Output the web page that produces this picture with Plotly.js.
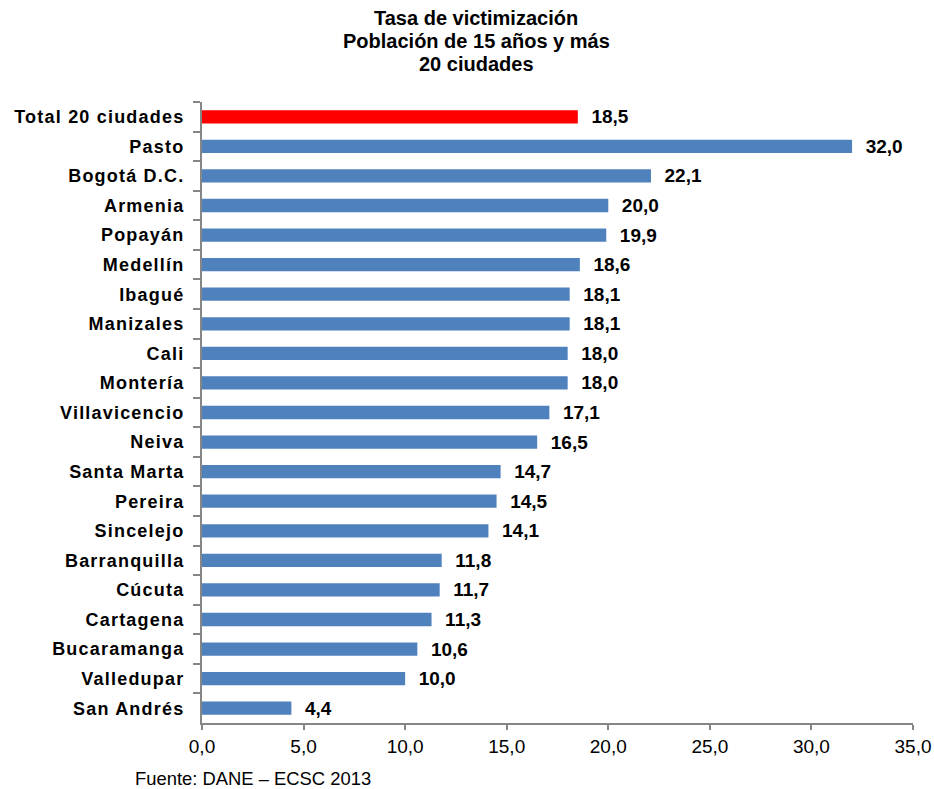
<!DOCTYPE html>
<html><head><meta charset="utf-8">
<script src="https://cdn.plot.ly/plotly-3.0.1.min.js"></script>
<style>
body{margin:0;background:#fff}
.ytick text{letter-spacing:1.2px}
</style>
</head><body>
<div id="chart" style="width:934px;height:789px"></div>
<script>
const cities = ["Total 20 ciudades","Pasto","Bogotá D.C.","Armenia","Popayán","Medellín","Ibagué","Manizales","Cali","Montería","Villavicencio","Neiva","Santa Marta","Pereira","Sincelejo","Barranquilla","Cúcuta","Cartagena","Bucaramanga","Valledupar","San Andrés"];
const rates = [18.5,32.0,22.1,20.0,19.9,18.6,18.1,18.1,18.0,18.0,17.1,16.5,14.7,14.5,14.1,11.8,11.7,11.3,10.6,10.0,4.4];
const titleLines = ["Tasa de victimización","Población de 15 años y más","20 ciudades"];
const sourceNote = "Fuente: DANE – ECSC 2013";
const barColors = cities.map((c,i)=> i===0 ? "#FF0000" : "#4F81BD");
const xTicks = [0,5,10,15,20,25,30,35];
const FONT = "Liberation Sans, Arial, sans-serif";

const trace = {
  type:"bar", orientation:"h",
  y: cities, x: rates,
  marker:{color: barColors},
  width:0.45,
  texttemplate:"  %{x:.1f}",
  textposition:"outside",
  constraintext:"none",
  cliponaxis:false,
  textfont:{family:FONT, size:19, color:"#000", weight:"bold"},
  hoverinfo:"skip"
};

// pixel helpers for annotation placement (plot area: x 202..913, y 102..723)
const px = X => (X-202)/711;
const py = Y => (723-Y)/621;
const titleY = [18, 41, 64];

const annotations = titleLines.map((t,i)=>({
  text:"<b>"+t+"</b>", xref:"paper", yref:"paper", x:px(476), y:py(titleY[i]),
  xanchor:"center", yanchor:"middle", showarrow:false,
  font:{family:FONT, size:20, color:"#000"}
}));
annotations.push({text:sourceNote, xref:"paper", yref:"paper",
  x:px(133), y:py(778), xanchor:"left", yanchor:"middle", showarrow:false,
  font:{family:FONT, size:18.4, color:"#000"}});

const layout = {
  width:934, height:789,
  separators:",.",
  margin:{l:202, r:21, t:102, b:66},
  paper_bgcolor:"#fff", plot_bgcolor:"#fff",
  showlegend:false,
  xaxis:{range:[0,35], tickvals:xTicks, tickformat:".1f",
         showgrid:false, zeroline:false, showline:true, linecolor:"#868686", linewidth:2,
         ticks:"outside", ticklen:5, tickcolor:"#868686", tickwidth:2,
         tickfont:{family:FONT, size:19, color:"#000"}},
  yaxis:{autorange:"reversed", type:"category", showgrid:false, zeroline:false,
         showline:true, linecolor:"#868686", linewidth:2,
         ticks:"outside", tickson:"boundaries", ticklen:7, tickcolor:"#868686", tickwidth:2,
         ticklabelstandoff:12,
         tickfont:{family:FONT, size:18, color:"#000", weight:"bold"}},
  annotations: annotations
};
Plotly.newPlot("chart",[trace],layout,{displayModeBar:false,staticPlot:true});
</script>
</body></html>
